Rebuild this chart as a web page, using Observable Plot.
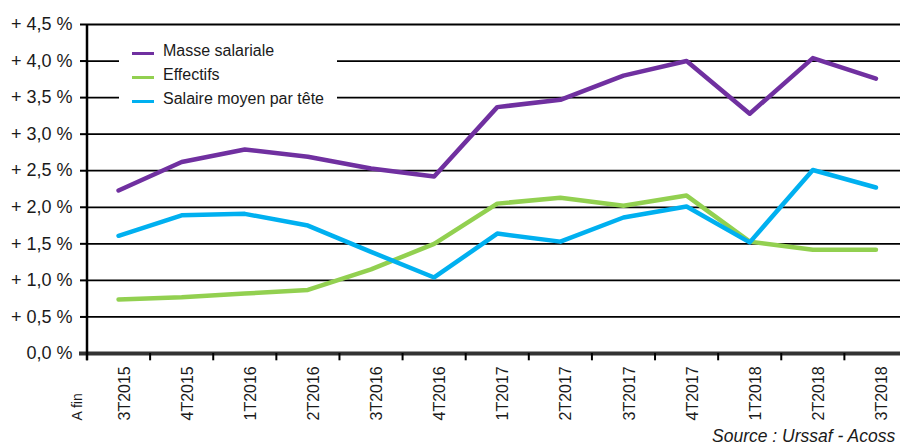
<!DOCTYPE html>
<html><head><meta charset="utf-8">
<script src="https://cdn.jsdelivr.net/npm/d3@7"></script>
<script src="https://cdn.jsdelivr.net/npm/@observablehq/plot@0.6"></script>
<style>
body{margin:0;background:#fff;font-family:"Liberation Sans",Arial,sans-serif;}
#wrap{position:relative;width:900px;height:445px;overflow:hidden;background:#fff;}
#legend{position:absolute;left:119px;top:34px;width:218px;height:80px;background:#fff;}
.lab{position:absolute;left:163px;font-size:16px;line-height:18px;color:#1a1a1a;white-space:nowrap;}
.sw{position:absolute;left:132px;width:22px;height:3px;}
#source{position:absolute;left:712px;top:427px;font-style:italic;font-size:17.5px;line-height:18px;color:#1a1a1a;white-space:nowrap;}
</style></head>
<body>
<div id="wrap"><div id="chart"></div>
<div id="legend"></div>
<div class="sw" style="top:52px;background:#7030A0"></div><div class="lab" style="top:42px">Masse salariale</div>
<div class="sw" style="top:76px;background:#92D050"></div><div class="lab" style="top:66px">Effectifs</div>
<div class="sw" style="top:100px;background:#00B0F0"></div><div class="lab" style="top:90px">Salaire moyen par tête</div>
<div id="source">Source : Urssaf - Acoss</div>
</div>
<script>
const quarters = ["3T2015","4T2015","1T2016","2T2016","3T2016","4T2016","1T2017","2T2017","3T2017","4T2017","1T2018","2T2018","3T2018"];
const masseSalariale = [2.23,2.62,2.79,2.69,2.53,2.42,3.37,3.47,3.80,4.00,3.28,4.04,3.76];
const effectifs = [0.74,0.77,0.82,0.87,1.15,1.50,2.05,2.13,2.02,2.16,1.53,1.42,1.42];
const salaireMoyen = [1.61,1.89,1.91,1.75,1.39,1.04,1.64,1.53,1.86,2.01,1.52,2.51,2.27];
const yTicks = [0,0.5,1,1.5,2,2.5,3,3.5,4,4.5];
const yTickLabels = ["0,0 %","+ 0,5 %","+ 1,0 %","+ 1,5 %","+ 2,0 %","+ 2,5 %","+ 3,0 %","+ 3,5 %","+ 4,0 %","+ 4,5 %"];
const axisNote = "A fin";

const bounds = d3.range(quarters.length + 1).map(i => i - 0.5);
const mk = arr => arr.map((v,i)=>({i, v}));

const chart = Plot.plot({
  width: 900, height: 428,
  marginLeft: 88, marginRight: 0, marginTop: 24, marginBottom: 75,
  style: {fontFamily: "Liberation Sans, Arial, sans-serif", color: "#000", background: "#fff"},
  x: {type: "linear", domain: [-0.5, quarters.length - 0.5], range: [86.5, 907], axis: null},
  y: {domain: [0, 4.5], range: [353, 24], axis: null},
  marks: [
    Plot.ruleY(yTicks.filter(v => v > 0), {stroke: "#000", strokeWidth: 1.8}),
    Plot.axisY({ticks: yTicks, label: null, tickSize: 8, tickPadding: 8, strokeWidth: 2, fontSize: 18, fill: "#1a1a1a",
      tickFormat: d => yTickLabels[yTicks.indexOf(d)]}),
    Plot.ruleY([0], {stroke: "#333", strokeWidth: 4, insetLeft: -9}),
    Plot.ruleX(bounds, {y1: -0.1, y2: 0, stroke: "#000", strokeWidth: 2}),
    Plot.ruleX([bounds[0]], {y1: -0.1, y2: 4.5, stroke: "#000", strokeWidth: 2.5}),
    Plot.line(mk(masseSalariale), {x: "i", y: "v", stroke: "#7030A0", strokeWidth: 4.5}),
    Plot.line(mk(effectifs), {x: "i", y: "v", stroke: "#92D050", strokeWidth: 4.5}),
    Plot.line(mk(salaireMoyen), {x: "i", y: "v", stroke: "#00B0F0", strokeWidth: 4.5}),
    Plot.text(quarters, {x: (d,i) => i, y: 0, text: d => d, rotate: -90, textAnchor: "start", dy: 67, dx: 6, fontSize: 16, fill: "#1a1a1a"}),
    Plot.text([axisNote], {frameAnchor: "bottom-left", text: d => d, rotate: -90, textAnchor: "start", dx: -7, dy: 67, fontSize: 14, fill: "#1a1a1a"})
  ]
});
document.getElementById("chart").appendChild(chart);
</script>
</body></html>
